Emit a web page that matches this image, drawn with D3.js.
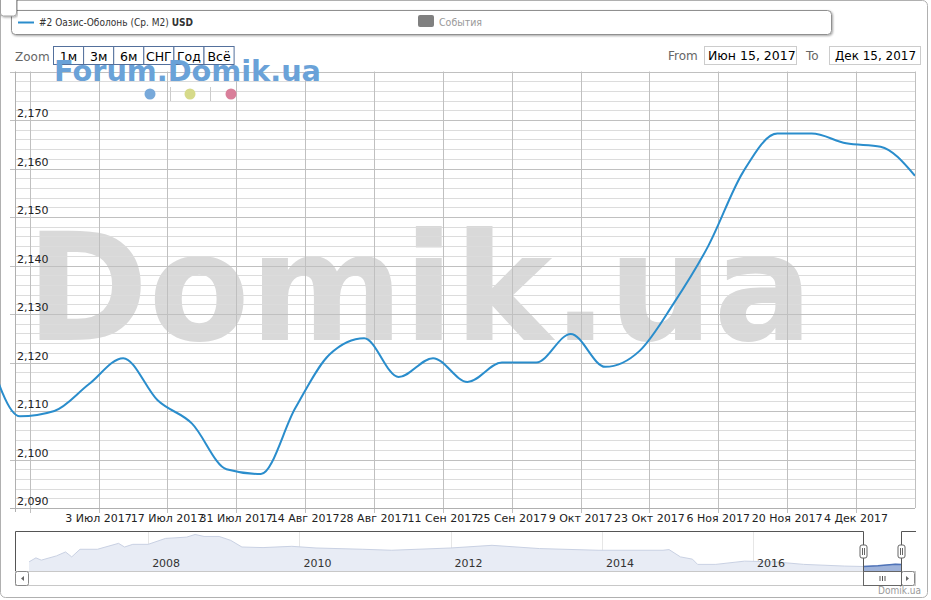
<!DOCTYPE html>
<html><head><meta charset="utf-8">
<script src="https://cdn.jsdelivr.net/npm/d3@7"></script>
<style>
html,body{margin:0;padding:0;background:#fff;}
svg{display:block;font-family:"DejaVu Sans",sans-serif;}
</style></head><body>
<svg id="c" width="931" height="600"></svg>
<script>
// ---------------- data ----------------
const seriesName = "#2 Оазис-Оболонь (Ср. М2)";
const seriesUnit = "USD";
const eventsLabel = "События";
const zoomLabel = "Zoom";
const zoomButtons = ["1м", "3м", "6м", "СНГ", "Год", "Всё"];
const fromLabel = "From", toLabel = "To";
const rangeFrom = "Июн 15, 2017", rangeTo = "Дек 15, 2017";
const credit = "Domik.ua";
const watermark = "Domik.ua";
const logoText = "Forum.Domik.ua";

const dates = ["2017-06-10","2017-06-17","2017-06-24","2017-07-01","2017-07-08","2017-07-15",
  "2017-07-22","2017-07-29","2017-08-05","2017-08-12","2017-08-19","2017-08-26","2017-09-02",
  "2017-09-09","2017-09-16","2017-09-23","2017-09-30","2017-10-07","2017-10-14","2017-10-21",
  "2017-10-28","2017-11-04","2017-11-11","2017-11-18","2017-11-25","2017-12-02","2017-12-09",
  "2017-12-16"];
const values = [2124.0, 2108.9, 2110.0, 2115.5, 2120.9, 2112.2,
  2107.4, 2098.0, 2097.0, 2110.6, 2121.7, 2125.0, 2117.0,
  2120.9, 2116.0, 2120.0, 2120.0, 2125.9, 2119.1, 2122.4,
  2132.3, 2144.1, 2159.2, 2167.2, 2167.2, 2165.2, 2164.5,
  2158.5];

const yTicks = [2090, 2100, 2110, 2120, 2130, 2140, 2150, 2160, 2170, 2180];
const xTickDates = ["2017-06-19","2017-07-03","2017-07-17","2017-07-31","2017-08-14","2017-08-28",
  "2017-09-11","2017-09-25","2017-10-09","2017-10-23","2017-11-06","2017-11-20","2017-12-04"];

const navDates = ["2006-06-05","2006-07-08","2006-08-03","2006-10-15","2006-11-28","2006-12-28",
  "2007-02-06","2007-05-01","2007-08-11","2007-09-09","2007-10-19","2008-01-01","2008-03-25",
  "2008-07-05","2008-08-15","2008-09-27","2008-12-09","2009-02-03","2009-03-29","2009-07-09",
  "2009-11-25","2010-03-22","2010-11-03","2011-03-22","2012-01-01","2012-07-19","2013-03-05",
  "2013-12-13","2014-10-23","2014-11-21","2015-01-15","2015-03-14","2015-04-08","2015-07-05",
  "2015-11-21","2016-04-15","2016-09-01","2017-03-18","2017-06-17","2017-08-26","2017-11-18",
  "2017-12-16"];
const navValues = [2223, 2319, 2264, 2367, 2463, 2343,
  2528, 2528, 2672, 2583, 2648, 2648, 2792,
  2823, 2888, 2840, 2840, 2744, 2583, 2569,
  2600, 2559, 2528, 2504, 2559, 2624, 2545,
  2504, 2504, 2521, 2343, 2288, 2161, 2161,
  2240, 2223, 2161, 2120, 2109, 2125, 2167,
  2158];
const navYears = ["2008", "2010", "2012", "2014", "2016"];

// ---------------- setup ----------------
const parse = d3.timeParse("%Y-%m-%d");
const ru = d3.timeFormatLocale({
  dateTime: "%A, %e %B %Y г. %X", date: "%d.%m.%Y", time: "%H:%M:%S",
  periods: ["AM", "PM"],
  days: ["воскресенье","понедельник","вторник","среда","четверг","пятница","суббота"],
  shortDays: ["вс","пн","вт","ср","чт","пт","сб"],
  months: ["января","февраля","марта","апреля","мая","июня","июля","августа","сентября","октября","ноября","декабря"],
  shortMonths: ["Янв","Фев","Мар","Апр","Май","Июн","Июл","Авг","Сен","Окт","Ноя","Дек"]
});
const fmtDate = ru.format("%-d %b %Y");

const svg = d3.select("#c");
const P = {l: 15, r: 915, t: 71.5, b: 508};
const x = d3.scaleTime().domain([parse("2017-06-16"), parse("2017-12-16")]).range([P.l, P.r]);
const y = d3.scaleLinear().domain([2090, 2180]).range([P.b, P.t]);

// outer container
svg.append("rect").attr("x", 0.5).attr("y", 0.5).attr("width", 927).attr("height", 597)
  .attr("rx", 5).attr("fill", "#fff").attr("stroke", "#b0b0b0");

// defs
const defs = svg.append("defs");
const sh = defs.append("filter").attr("id", "sh").attr("x", "-5%").attr("y", "-50%").attr("width", "110%").attr("height", "200%");
sh.append("feDropShadow").attr("dx", 1).attr("dy", 1).attr("stdDeviation", 1).attr("flood-color", "#000").attr("flood-opacity", 0.35);
defs.append("clipPath").attr("id", "clipLine").append("rect")
  .attr("x", 0).attr("y", P.t - 5).attr("width", P.r).attr("height", P.b - P.t + 10);

// watermark
svg.append("text").attr("x", 26).attr("y", 340)
  .attr("font-family", "DejaVu Sans").attr("font-weight", "bold").attr("font-size", 150)
  .attr("textLength", 787).attr("lengthAdjust", "spacingAndGlyphs")
  .attr("fill", "#d9d9d9").text(watermark);

// minor grid
const minor = d3.range(2090, 2181, 2).filter(v => v % 10 !== 0);
svg.append("g").selectAll("line").data(minor).join("line")
  .attr("x1", P.l).attr("x2", P.r).attr("y1", d => Math.round(y(d)) + 0.5).attr("y2", d => Math.round(y(d)) + 0.5)
  .attr("stroke", "#dcdcdc").attr("stroke-width", 1);
// major grid
svg.append("g").selectAll("line").data(yTicks).join("line")
  .attr("x1", P.l - 5).attr("x2", P.r).attr("y1", d => Math.round(y(d)) + 0.5).attr("y2", d => Math.round(y(d)) + 0.5)
  .attr("stroke", "#c0c0c0").attr("stroke-width", 1);
// vertical grid
const xt = xTickDates.map(parse);
svg.append("g").selectAll("line").data(xt).join("line")
  .attr("x1", d => Math.round(x(d)) + 0.5).attr("x2", d => Math.round(x(d)) + 0.5)
  .attr("y1", P.t).attr("y2", P.b + 5)
  .attr("stroke", "#c0c0c0").attr("stroke-width", 1);
// right border of plot
svg.append("line").attr("x1", P.r + 0.5).attr("x2", P.r + 0.5).attr("y1", P.t).attr("y2", P.b)
  .attr("stroke", "#c0c0c0");
// axes lines
svg.append("line").attr("x1", P.l + 0.5).attr("x2", P.l + 0.5).attr("y1", P.t).attr("y2", P.b + 4)
  .attr("stroke", "#b0b0b0");
svg.append("line").attr("x1", P.l - 5).attr("x2", P.r).attr("y1", P.b + 0.5).attr("y2", P.b + 0.5)
  .attr("stroke", "#b0b0b0");

// y labels
svg.append("g").selectAll("text").data(yTicks.filter(d => d < 2180)).join("text")
  .attr("x", 17).attr("y", d => y(d) - 3)
  .attr("font-size", 11).attr("fill", "#222").text(d => d3.format(",")(d));

// x labels
const xl = svg.append("g").selectAll("text").data(xt).join("text")
  .attr("x", d => x(d)).attr("y", 522).attr("text-anchor", "middle")
  .attr("font-size", 11).attr("fill", "#222").text(d => fmtDate(d));
xl.each(function(d) {
  const w = this.getComputedTextLength();
  if (x(d) - w / 2 < 0) d3.select(this).remove();
});

// the line
const pts = dates.map((d, i) => ({d: parse(d), v: values[i]}));
svg.append("path").datum(pts).attr("clip-path", "url(#clipLine)")
  .attr("d", d3.line().x(p => x(p.d)).y(p => y(p.v)).curve(d3.curveMonotoneX))
  .attr("fill", "none").attr("stroke", "#2a8dcc").attr("stroke-width", 2);

// ---------------- legend ----------------
svg.append("rect").attr("x", 11.5).attr("y", 10.5).attr("width", 820).attr("height", 24).attr("rx", 4)
  .attr("fill", "#fff").attr("stroke", "#909090").attr("filter", "url(#sh)");
svg.append("line").attr("x1", 18).attr("x2", 34).attr("y1", 22.5).attr("y2", 22.5)
  .attr("stroke", "#2a8dcc").attr("stroke-width", 2);
const lt = svg.append("text").attr("x", 39).attr("y", 26).attr("font-size", 10).attr("fill", "#333")
  .attr("textLength", 154).attr("lengthAdjust", "spacingAndGlyphs");
lt.append("tspan").text(seriesName + " ");
lt.append("tspan").attr("font-weight", "bold").text(seriesUnit);
svg.append("rect").attr("x", 418).attr("y", 15).attr("width", 16).attr("height", 12).attr("rx", 2)
  .attr("fill", "#808080");
svg.append("text").attr("x", 439).attr("y", 26).attr("font-size", 10).attr("fill", "#999")
  .attr("textLength", 43).attr("lengthAdjust", "spacingAndGlyphs").text(eventsLabel);

// small handle top-left
svg.append("rect").attr("x", 0.5).attr("y", -6).attr("width", 16).attr("height", 22).attr("rx", 3)
  .attr("fill", "#fff").attr("stroke", "#a0a0a0").attr("filter", "url(#sh)");

// ---------------- range selector ----------------
svg.append("text").attr("x", 15).attr("y", 61).attr("font-size", 12).attr("fill", "#666").text(zoomLabel);
const bw = 30.1;
const bg = svg.append("g");
zoomButtons.forEach((b, i) => {
  const bx = 53.5 + i * bw;
  bg.append("rect").attr("x", bx).attr("y", 46.5).attr("width", bw).attr("height", 18)
    .attr("fill", "#fff").attr("stroke", "#54709c");
  bg.append("text").attr("x", bx + bw / 2).attr("y", 61).attr("text-anchor", "middle")
    .attr("font-size", 12.5).attr("fill", "#000").text(b);
});
svg.append("text").attr("x", 668).attr("y", 60).attr("font-size", 12).attr("fill", "#666").text(fromLabel);
svg.append("rect").attr("x", 704.5).attr("y", 46.5).attr("width", 92).attr("height", 18)
  .attr("fill", "#fff").attr("stroke", "#ccc");
svg.append("text").attr("x", 708).attr("y", 60).attr("font-size", 12.5).attr("fill", "#000").text(rangeFrom);
svg.append("text").attr("x", 806).attr("y", 60).attr("font-size", 12).attr("fill", "#666").text(toLabel);
svg.append("rect").attr("x", 829.5).attr("y", 46.5).attr("width", 91).attr("height", 18)
  .attr("fill", "#fff").attr("stroke", "#ccc");
svg.append("text").attr("x", 835).attr("y", 60).attr("font-size", 12.5).attr("fill", "#000")
  .attr("textLength", 81).attr("lengthAdjust", "spacingAndGlyphs").text(rangeTo);

// logo
svg.append("text").attr("x", 54).attr("y", 81)
  .attr("font-family", "DejaVu Sans").attr("font-weight", "bold").attr("font-size", 28)
  .attr("textLength", 267).attr("lengthAdjust", "spacingAndGlyphs")
  .attr("fill", "#6aa2d8").text(logoText);
const dotColors = ["#78a9da", "#d6da8a", "#d97f9a"];
[150, 190, 231].forEach((cx, i) => {
  svg.append("circle").attr("cx", cx).attr("cy", 94).attr("r", 5.5).attr("fill", dotColors[i]);
});
[170.5, 210.5].forEach(lx => {
  svg.append("line").attr("x1", lx).attr("x2", lx).attr("y1", 87).attr("y2", 101)
    .attr("stroke", "#ccc");
});

// ---------------- navigator ----------------
const NT = 531.5, NB = 571;
const nx = d3.scaleTime().domain([parse("2006-03-29"), parse("2018-02-21")]).range([P.l, P.r]);
const ny = d3.scaleLinear().domain([2000, 2960]).range([NB, NT]);
// year grid
svg.append("g").selectAll("line").data(navYears).join("line")
  .attr("x1", d => Math.round(nx(parse(d + "-01-01"))) + 0.5).attr("x2", d => Math.round(nx(parse(d + "-01-01"))) + 0.5)
  .attr("y1", NT).attr("y2", NB).attr("stroke", "#e6e6e6");
const navPts = navDates.map((d, i) => ({d: parse(d), v: navValues[i]}));
const navArea = d3.area().x(p => nx(p.d)).y0(NB).y1(p => ny(p.v));
const navLine = d3.line().x(p => nx(p.d)).y(p => ny(p.v));
svg.append("path").datum(navPts).attr("d", navArea).attr("fill", "#e8ecf5");
svg.append("path").datum(navPts).attr("d", navLine).attr("fill", "none").attr("stroke", "#c9d1e3");
// selected portion
const sx0 = nx(parse("2017-06-16")), sx1 = nx(parse("2017-12-16"));
defs.append("clipPath").attr("id", "selClip").append("rect")
  .attr("x", sx0).attr("y", NT).attr("width", sx1 - sx0).attr("height", NB - NT);
svg.append("path").datum(navPts).attr("clip-path", "url(#selClip)").attr("d", navArea).attr("fill", "#9fb3da");
svg.append("path").datum(navPts).attr("clip-path", "url(#selClip)").attr("d", navLine)
  .attr("fill", "none").attr("stroke", "#4f73b8").attr("stroke-width", 1.5);
svg.append("g").selectAll("text").data(navYears).join("text")
  .attr("x", d => nx(parse(d + "-01-01")) + 4).attr("y", 567)
  .attr("font-size", 11).attr("fill", "#333").text(d => d);
// outline
const ox0 = Math.round(sx0) + 0.5, ox1 = Math.round(sx1) + 0.5;
svg.append("path")
  .attr("d", `M${P.l + 0.5},${NB} L${P.l + 0.5},${NT} L${ox0},${NT} L${ox0},${NB} M${ox1},${NB} L${ox1},${NT} L${P.r + 1},${NT}`)
  .attr("fill", "none").attr("stroke", "#555");
// handles
[ox0, ox1].forEach(hx => {
  svg.append("rect").attr("x", hx - 3.5).attr("y", 545).attr("width", 7).attr("height", 13).attr("rx", 2)
    .attr("fill", "#fff").attr("stroke", "#666");
  [-1, 1].forEach(o => svg.append("line").attr("x1", hx + o).attr("x2", hx + o).attr("y1", 548).attr("y2", 555)
    .attr("stroke", "#666"));
});
// scrollbar
svg.append("rect").attr("x", P.l + 0.5).attr("y", NB + 0.5).attr("width", P.r - P.l).attr("height", 14)
  .attr("fill", "#fff").attr("stroke", "#c8c8c8");
svg.append("rect").attr("x", P.l + 0.5).attr("y", NB + 0.5).attr("width", 13).attr("height", 14).attr("rx", 2)
  .attr("fill", "#fff").attr("stroke", "#888");
svg.append("path").attr("d", `M${P.l + 9},${NB + 5} L${P.l + 6},${NB + 7.5} L${P.l + 9},${NB + 10} Z`).attr("fill", "#666");
svg.append("rect").attr("x", P.r - 13.5).attr("y", NB + 0.5).attr("width", 13).attr("height", 14).attr("rx", 2)
  .attr("fill", "#fff").attr("stroke", "#888");
svg.append("path").attr("d", `M${P.r - 9},${NB + 5} L${P.r - 6},${NB + 7.5} L${P.r - 9},${NB + 10} Z`).attr("fill", "#666");
svg.append("rect").attr("x", ox0).attr("y", NB + 0.5).attr("width", ox1 - ox0).attr("height", 14)
  .attr("fill", "#fff").attr("stroke", "#666");
const gcx = (ox0 + ox1) / 2;
[-2.5, 0, 2.5].forEach(o => svg.append("line").attr("x1", gcx + o).attr("x2", gcx + o)
  .attr("y1", NB + 5).attr("y2", NB + 10).attr("stroke", "#555"));

// credit
svg.append("text").attr("x", 921).attr("y", 594).attr("text-anchor", "end")
  .attr("font-size", 10).attr("fill", "#999").attr("textLength", 43).attr("lengthAdjust", "spacingAndGlyphs").text(credit);
</script>
</body></html>
